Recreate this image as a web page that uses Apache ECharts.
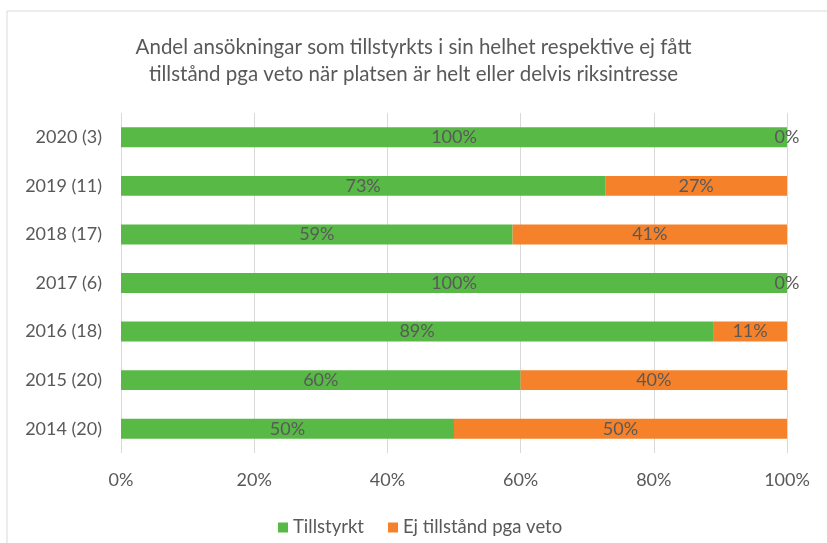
<!DOCTYPE html>
<html>
<head>
<meta charset="utf-8">
<script src="https://cdn.jsdelivr.net/npm/echarts@6/dist/echarts.min.js"></script>
<style>
  html, body { margin: 0; padding: 0; background: #fff; }
  #chart { width: 827px; height: 543px; }
</style>
</head>
<body>
<div id="chart"></div>
<script>
const categories = ['2014 (20)', '2015 (20)', '2016 (18)', '2017 (6)', '2018 (17)', '2019 (11)', '2020 (3)'];
const tillstyrkt = [50, 60, 88.9, 100, 58.8, 72.7, 100];
const ejTillstand = [50, 40, 11.1, 0, 41.2, 27.3, 0];
const xTicks = [0, 20, 40, 60, 80, 100];

const FONT = 'Lato';
const TEXT = '#595959';

const chart = echarts.init(document.getElementById('chart'));

function label() {
  return {
    show: true,
    position: 'inside',
    color: TEXT,
    fontFamily: FONT,
    fontSize: 18,
    formatter: p => Math.round(p.value) + '%',
  };
}

chart.setOption({
  animation: false,
  textStyle: { fontFamily: FONT },
  title: {
    text: 'Andel ansökningar som tillstyrkts i sin helhet respektive ej fått\ntillstånd pga veto när platsen är helt eller delvis riksintresse',
    left: 'center',
    top: 29,
    textStyle: { color: TEXT, fontFamily: FONT, fontSize: 20.5, fontWeight: 'normal', lineHeight: 27 },
  },
  graphic: [{
    type: 'rect',
    shape: { x: 7, y: 11, width: 900, height: 600 },
    style: { fill: 'none', stroke: '#d9d9d9', lineWidth: 1 },
    silent: true,
  }],
  legend: {
    top: 513,
    left: 273,
    itemWidth: 10,
    itemHeight: 10,
    itemGap: 24,
    icon: 'rect',
    textStyle: { color: TEXT, fontFamily: FONT, fontSize: 18.5, padding: [0, 0, 0, 0] },
    data: ['Tillstyrkt', 'Ej tillstånd pga veto'],
  },
  grid: { left: 121, right: 40, top: 113, bottom: 90 },
  xAxis: {
    type: 'value',
    min: 0,
    max: 100,
    interval: 20,
    axisLine: { show: false },
    axisTick: { show: false },
    splitLine: { lineStyle: { color: '#d9d9d9', width: 1 } },
    axisLabel: {
      color: TEXT,
      fontFamily: FONT,
      fontSize: 18,
      margin: 18,
      formatter: v => (xTicks.includes(v) ? v + '%' : ''),
    },
  },
  yAxis: {
    type: 'category',
    data: categories,
    axisLine: { show: false },
    axisTick: { show: false },
    axisLabel: { color: TEXT, fontFamily: FONT, fontSize: 18, margin: 19 },
  },
  series: [
    {
      name: 'Tillstyrkt',
      type: 'bar',
      stack: 'total',
      data: tillstyrkt,
      barWidth: '41%',
      itemStyle: { color: '#58B947' },
      label: label(),
    },
    {
      name: 'Ej tillstånd pga veto',
      type: 'bar',
      stack: 'total',
      data: ejTillstand,
      barWidth: '41%',
      itemStyle: { color: '#F5822A' },
      label: label(),
    },
  ],
});
</script>
</body>
</html>
